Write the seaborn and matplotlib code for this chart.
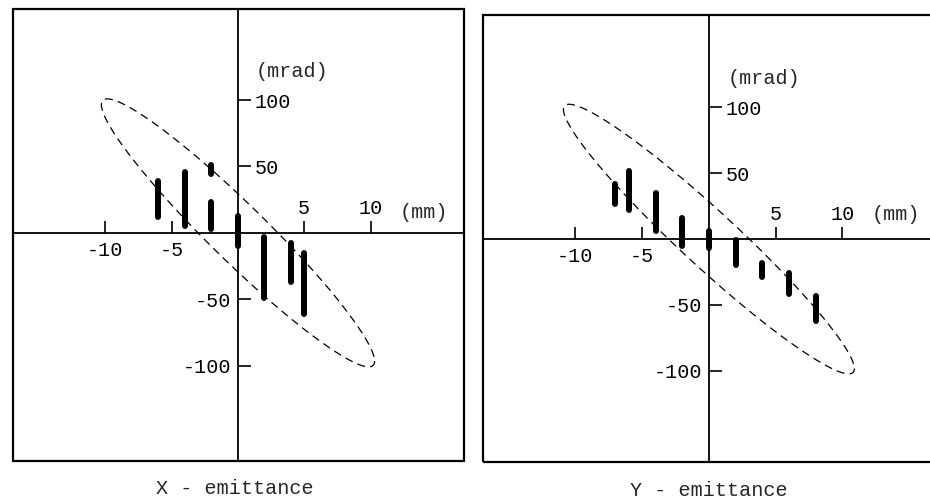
import numpy as np
import pandas as pd
import matplotlib
matplotlib.use("Agg")
import matplotlib.pyplot as plt
import seaborn as sns
from matplotlib.patches import Rectangle

# ---- data ----
# X-emittance: slit position (mm) and angular extent (mrad)
x_pos = [-6, -4, -2, -2, 0, 2, 4, 5]
x_lo = [12, 5, 44, 3, -10, -49, -37, -61]
x_hi = [39, 46, 51, 23, 13, -3, -8, -15]

# Y-emittance
y_pos = [-7, -6, -4, -2, 0, 2, 4, 6, 8]
y_lo = [27, 22, 6, -5, -7, -20, -29, -42, -62]
y_hi = [42, 52, 35, 16, 6, -1, -18, -26, -43]

# ellipse (Twiss) parameters: emittance (mm*mrad), beta (mm/mrad), alpha
x_eps, x_beta, x_alpha = 304, 0.349, 3.27
y_eps, y_beta, y_alpha = 310, 0.383, 3.46

x_ticks = [-10, -5, 5, 10]
y_ticks = [-100, -50, 50, 100]
captions = ["X - emittance", "Y - emittance"]

sns.set_style("white")
FONT = ["Liberation Mono", "DejaVu Sans Mono"]
plt.rcParams["font.family"] = FONT
FS = 14.5

fig = plt.figure(figsize=(9.3, 5.0), dpi=100)
ax_l = fig.add_axes([13 / 930, 39 / 500, 451 / 930, 452 / 500])
ax_r = fig.add_axes([483.3 / 930, 38.3 / 500, 453.9 / 930, 446.7 / 500])


def ellipse_df(eps, beta, alpha):
    t = np.linspace(0, 2 * np.pi, 721)
    xx = np.sqrt(eps * beta) * np.cos(t)
    yy = -np.sqrt(eps / beta) * (alpha * np.cos(t) + np.sin(t))
    return pd.DataFrame({"x": xx, "y": yy})


def seg_df(pos, lo, hi):
    rows = []
    for i, (p, a, b) in enumerate(zip(pos, lo, hi)):
        rows.append({"x": p, "y": a, "seg": i})
        rows.append({"x": p, "y": b, "seg": i})
    return pd.DataFrame(rows)


def draw(ax, pos, lo, hi, eps, beta, alpha, xlim, ylim, mm_y):
    ell = ellipse_df(eps, beta, alpha)
    sns.lineplot(data=ell, x="x", y="y", sort=False, estimator=None,
                 color="black", lw=0.9, linestyle=(0, (6.4, 4.2)), ax=ax)
    segs = seg_df(pos, lo, hi)
    sns.lineplot(data=segs, x="x", y="y", units="seg", estimator=None,
                 sort=False, color="black", lw=4.3, solid_capstyle="round", ax=ax)
    ax.set_xlim(*xlim)
    ax.set_ylim(*ylim)
    ax.set_xlabel("")
    ax.set_ylabel("")

    for side in ["left", "right", "bottom", "top"]:
        ax.spines[side].set_position(("data", 0))
    ax.spines["left"].set_linewidth(1.3)
    ax.spines["bottom"].set_linewidth(1.3)
    ax.spines["left"].set_color("black")
    ax.spines["bottom"].set_color("black")
    ax.spines["right"].set_color("none")
    ax.spines["top"].set_color("none")

    ax.set_xticks(x_ticks)
    ax.set_yticks(y_ticks)
    ax.set_xticklabels([str(v) for v in x_ticks])
    ax.set_yticklabels([str(v) for v in y_ticks])
    ax.tick_params(axis="both", direction="in", length=9, width=1.2,
                   colors="black", labelsize=FS)
    ax.tick_params(axis="x", bottom=True, top=False, labelbottom=True, labeltop=True)
    ax.tick_params(axis="y", left=True, right=False, labelleft=True, labelright=True)
    for v, tk in zip(x_ticks, ax.xaxis.get_major_ticks()):
        tk.label1.set_visible(v < 0)
        tk.label2.set_visible(v > 0)
        tk.set_pad(5.5 if v < 0 else 10.5)
    for v, tk in zip(y_ticks, ax.yaxis.get_major_ticks()):
        tk.label1.set_visible(v < 0)
        tk.label2.set_visible(v > 0)
        tk.set_pad(5 if v < 0 else 12)

    ax.text(4.1, 121.8, "(mrad)", ha="center", va="center", fontsize=FS)
    ax.text(14.0, mm_y, "(mm)", ha="center", va="center", fontsize=FS)
    ax.add_patch(Rectangle((0, 0), 1, 1, transform=ax.transAxes, fill=False,
                           lw=1.6, edgecolor="black", clip_on=False, zorder=5))
    ax.grid(False)


draw(ax_l, x_pos, x_lo, x_hi, x_eps, x_beta, x_alpha,
     (-16.96, 17.04), (-171.8, 168.6), 15.7)
draw(ax_r, y_pos, y_lo, y_hi, y_eps, y_beta, y_alpha,
     (-16.9, 17.1), (-169.2, 170.3), 18.4)

fig.text(235 / 930, 0.024, captions[0], ha="center", va="center", fontsize=FS)
fig.text(709 / 930, 0.020, captions[1], ha="center", va="center", fontsize=FS)

fig.savefig("out.png", dpi=100, facecolor="white")
